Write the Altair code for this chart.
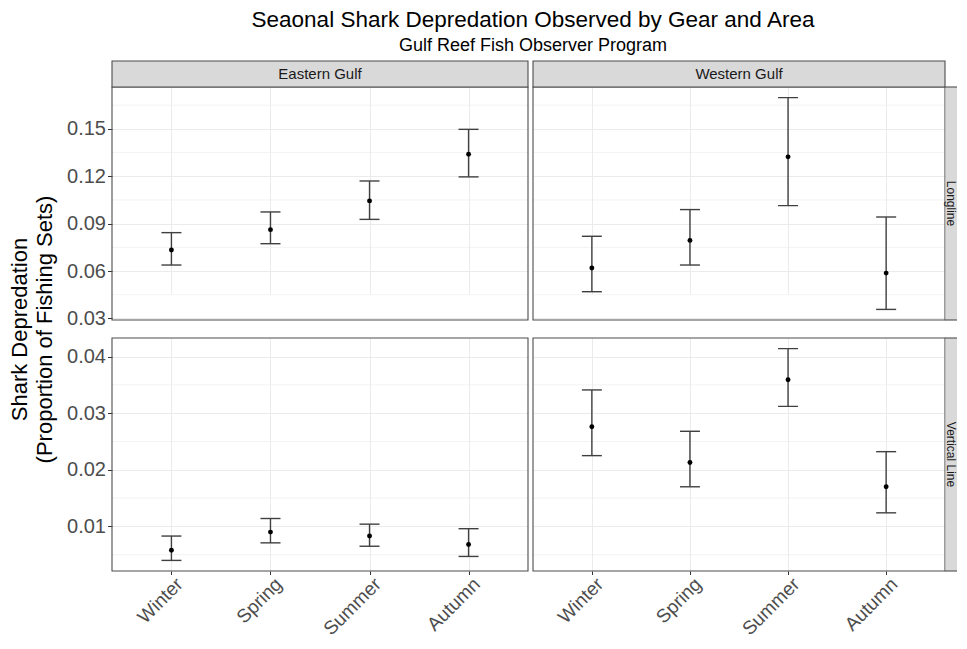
import altair as alt
import pandas as pd

# ---------------- data ----------------
seasons = ["Winter", "Spring", "Summer", "Autumn"]
areas = ["Eastern Gulf", "Western Gulf"]
gears = ["Longline", "Vertical Line"]

east_ll_mean = [0.0733, 0.0862, 0.1044, 0.1339]
east_ll_lower = [0.0638, 0.0773, 0.0927, 0.1196]
east_ll_upper = [0.0843, 0.0974, 0.1170, 0.1497]

west_ll_mean = [0.0619, 0.0794, 0.1323, 0.0587]
west_ll_lower = [0.0469, 0.0638, 0.1014, 0.0357]
west_ll_upper = [0.0820, 0.0989, 0.1698, 0.0942]

east_vl_mean = [0.0058, 0.0090, 0.0083, 0.0068]
east_vl_lower = [0.0040, 0.0071, 0.0065, 0.0047]
east_vl_upper = [0.0083, 0.0114, 0.0104, 0.0096]

west_vl_mean = [0.0276, 0.0213, 0.0359, 0.0170]
west_vl_lower = [0.0225, 0.0170, 0.0312, 0.0124]
west_vl_upper = [0.0341, 0.0268, 0.0414, 0.0232]

ll_ticks = [0.03, 0.06, 0.09, 0.12, 0.15]
ll_minor = [0.045, 0.075, 0.105, 0.135, 0.165]
vl_ticks = [0.01, 0.02, 0.03, 0.04]
vl_minor = [0.005, 0.015, 0.025, 0.035]

title_text = "Seaonal Shark Depredation Observed by Gear and Area"
subtitle_text = "Gulf Reef Fish Observer Program"
y_title = ["Shark Depredation", "(Proportion of Fishing Sets)"]

# ---------------- layout constants ----------------
PW_L = 416
PW_R = 412
STRIP = 26
RSTRIP = 12
PH = 233
FONT = "Liberation Sans"
GRID = "#EBEBEB"
DARK = "#333333"
BORDER = "#4D4D4D"
BAR = "#404040"


def make_df(mean, lower, upper):
    return pd.DataFrame({"season": seasons, "mean": mean, "lower": lower, "upper": upper})


def expand(*lists):
    vals = [v for l in lists for v in l]
    lo, hi = min(vals), max(vals)
    r = hi - lo
    return [lo - 0.05 * r, hi + 0.05 * r]


ll_domain = expand(east_ll_lower, east_ll_upper, west_ll_lower, west_ll_upper)
vl_domain = expand(east_vl_lower, east_vl_upper, west_vl_lower, west_vl_upper)


def panel(df, ydomain, yticks, minor, left, top, col_label, row_label, bottom, ytitle=None):
    pw = PW_L if left else PW_R
    width = pw + (0 if left else RSTRIP)
    y0 = STRIP if top else 0
    height = PH + y0

    yscale = alt.Scale(domain=ydomain, range=[height, y0], nice=False, zero=False)
    xscale = alt.Scale(type="point", domain=seasons, padding=0.6, range=[0, pw])

    if left:
        ykw = dict(values=yticks, format=".2f", labelFontSize=20, labelColor="#4D4D4D",
                   labelFont=FONT, tickColor=DARK, tickSize=4.5, tickWidth=1, domain=False,
                   grid=True, gridColor=GRID, gridWidth=1, labelPadding=2)
        if ytitle is not None:
            ykw.update(title=ytitle, titleFontSize=22, titleFontWeight="normal",
                       titleColor="black", titleFont=FONT, titleAngle=270,
                       titleAlign="center", titleBaseline="top", titleX=-102.6,
                       titleY=268, titleLineHeight=25)
        else:
            ykw.update(title=None)
        yaxis = alt.Axis(**ykw)
    else:
        yaxis = alt.Axis(values=yticks, labels=False, ticks=False, domain=False,
                         grid=True, gridColor=GRID, gridWidth=1, title=None)

    if bottom:
        xaxis = alt.Axis(labelAngle=315, labelAlign="right", labelBaseline="top",
                         labelFontSize=19, labelColor="#4D4D4D", labelFont=FONT,
                         tickColor=DARK, tickSize=3.5, tickWidth=1, domain=False,
                         grid=True, gridColor=GRID, gridWidth=1, labelPadding=0,
                         labelOffset=1.5, title=None)
    else:
        xaxis = alt.Axis(labels=False, ticks=False, domain=False, grid=True,
                         gridColor=GRID, gridWidth=1, title=None)

    X = alt.X("season:N", scale=xscale, axis=xaxis, sort=seasons)

    def Y(field):
        return alt.Y(field, scale=yscale, axis=yaxis)

    minor_df = pd.DataFrame({"v": minor})
    lab_df = pd.DataFrame({"col": [col_label], "row": [row_label]})

    layers = []
    layers.append(alt.Chart(minor_df).mark_rule(color=GRID, strokeWidth=0.6).encode(
        y=Y("v:Q"), x=alt.value(0), x2=alt.value(pw)))
    layers.append(alt.Chart(df).mark_rule(color=BAR, strokeWidth=1.4).encode(
        x=X, y=Y("lower:Q"), y2="upper:Q"))
    layers.append(alt.Chart(df).mark_tick(color=BAR, thickness=1.4, size=20,
                                          orient="horizontal", opacity=1).encode(
        x=X, y=Y("lower:Q")))
    layers.append(alt.Chart(df).mark_tick(color=BAR, thickness=1.4, size=20,
                                          orient="horizontal", opacity=1).encode(
        x=X, y=Y("upper:Q")))
    layers.append(alt.Chart(df).mark_circle(color="black", size=24, opacity=1).encode(
        x=X, y=Y("mean:Q")))
    # panel border
    layers.append(alt.Chart(lab_df).mark_rect(fillOpacity=0, stroke=BORDER, strokeWidth=1.1).encode(
        x=alt.value(0), x2=alt.value(pw), y=alt.value(y0), y2=alt.value(height)))
    if top:
        layers.append(alt.Chart(lab_df).mark_rect(fill="#D9D9D9", stroke=BORDER, strokeWidth=1.1).encode(
            x=alt.value(0), x2=alt.value(pw), y=alt.value(0), y2=alt.value(STRIP)))
        layers.append(alt.Chart(lab_df).mark_text(font=FONT, fontSize=15, color="#1A1A1A",
                                                  align="center", baseline="middle").encode(
            x=alt.value(pw / 2), y=alt.value(STRIP / 2), text="col:N"))
    if not left:
        layers.append(alt.Chart(lab_df).mark_rect(fill="#D9D9D9").encode(
            x=alt.value(pw + 0.5), x2=alt.value(width), y=alt.value(y0), y2=alt.value(height)))
        layers.append(alt.Chart(lab_df).mark_rule(color=BORDER, strokeWidth=1.1).encode(
            x=alt.value(pw), x2=alt.value(width), y=alt.value(y0)))
        layers.append(alt.Chart(lab_df).mark_rule(color=BORDER, strokeWidth=1.1).encode(
            x=alt.value(pw), x2=alt.value(width), y=alt.value(height)))
        layers.append(alt.Chart(lab_df).mark_text(font=FONT, fontSize=12, color="#1A1A1A",
                                                  align="center", baseline="alphabetic",
                                                  angle=90, clip=True).encode(
            x=alt.value(pw + 2.2), y=alt.value((y0 + height) / 2), text="row:N"))

    return alt.layer(*layers).properties(width=width, height=height)


tl = panel(make_df(east_ll_mean, east_ll_lower, east_ll_upper), ll_domain, ll_ticks, ll_minor,
           left=True, top=True, col_label=areas[0], row_label=gears[0], bottom=False,
           ytitle=y_title)
tr = panel(make_df(west_ll_mean, west_ll_lower, west_ll_upper), ll_domain, ll_ticks, ll_minor,
           left=False, top=True, col_label=areas[1], row_label=gears[0], bottom=False)
bl = panel(make_df(east_vl_mean, east_vl_lower, east_vl_upper), vl_domain, vl_ticks, vl_minor,
           left=True, top=False, col_label=areas[0], row_label=gears[1], bottom=True)
br = panel(make_df(west_vl_mean, west_vl_lower, west_vl_upper), vl_domain, vl_ticks, vl_minor,
           left=False, top=False, col_label=areas[1], row_label=gears[1], bottom=True)

chart = alt.concat(
    tl, tr, bl, br, columns=2, spacing={"row": 18, "column": 5},
    bounds="flush", align="each",
).properties(
    title=alt.TitleParams(
        text=title_text, subtitle=subtitle_text, font=FONT, subtitleFont=FONT,
        fontSize=22.5, subtitleFontSize=18, fontWeight="normal",
        subtitleFontWeight="normal", color="black", subtitleColor="black",
        anchor="middle", frame="bounds", dx=50, offset=5, subtitlePadding=6,
    ),
    padding={"left": 0, "top": 0, "right": 0, "bottom": 0},
).configure(font=FONT).configure_view(strokeWidth=0)

chart.save("out.html", embed_options={"renderer": "svg", "actions": False})
